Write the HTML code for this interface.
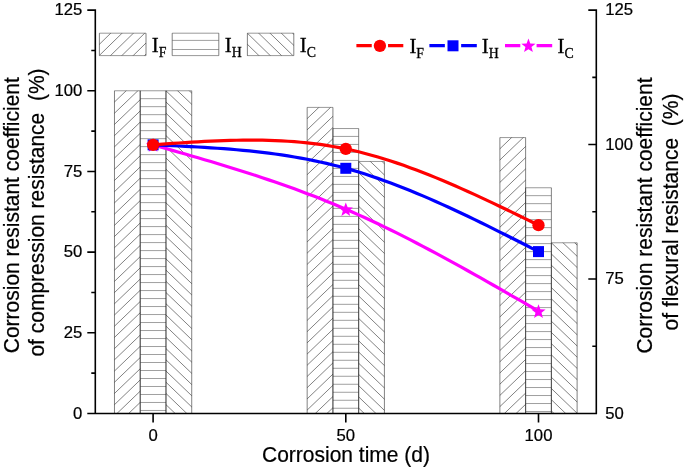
<!DOCTYPE html>
<html><head><meta charset="utf-8"><title>chart</title>
<style>html,body{margin:0;padding:0;background:#fff;}svg{display:block;will-change:transform;}</style></head>
<body><svg width="685" height="469" viewBox="0 0 685 469">
<rect width="685" height="469" fill="#fff"/>
<clipPath id="c0"><rect x="114.47" y="90.78" width="25.75" height="322.72"/></clipPath><g clip-path="url(#c0)" stroke="#1a1a1a" stroke-width="0.55" fill="none"><path d="M113.47 102.95L141.22 76.31M113.47 114.16L141.22 87.52M113.47 125.37L141.22 98.73M113.47 136.58L141.22 109.94M113.47 147.79L141.22 121.15M113.47 159.00L141.22 132.36M113.47 170.21L141.22 143.57M113.47 181.42L141.22 154.78M113.47 192.63L141.22 165.99M113.47 203.84L141.22 177.20M113.47 215.05L141.22 188.41M113.47 226.26L141.22 199.62M113.47 237.47L141.22 210.83M113.47 248.68L141.22 222.04M113.47 259.89L141.22 233.25M113.47 271.10L141.22 244.46M113.47 282.31L141.22 255.67M113.47 293.52L141.22 266.88M113.47 304.73L141.22 278.09M113.47 315.94L141.22 289.30M113.47 327.15L141.22 300.51M113.47 338.36L141.22 311.72M113.47 349.57L141.22 322.93M113.47 360.78L141.22 334.14M113.47 371.99L141.22 345.35M113.47 383.20L141.22 356.56M113.47 394.41L141.22 367.77M113.47 405.62L141.22 378.98M113.47 416.83L141.22 390.19M113.47 428.04L141.22 401.40"/></g><path d="M114.47 90.78V413.50M140.22 90.78V413.50" fill="none" stroke="#1a1a1a" stroke-width="0.55"/><path d="M114.47 90.78H140.22M114.47 413.50H140.22" fill="none" stroke="#1a1a1a" stroke-width="0.45"/>
<clipPath id="c1"><rect x="140.22" y="90.78" width="25.75" height="322.72"/></clipPath><g clip-path="url(#c1)" stroke="#1a1a1a" stroke-width="0.55" fill="none"><path d="M140.22 98.67H165.97M140.22 106.67H165.97M140.22 114.66H165.97M140.22 122.66H165.97M140.22 130.65H165.97M140.22 138.65H165.97M140.22 146.64H165.97M140.22 154.64H165.97M140.22 162.63H165.97M140.22 170.63H165.97M140.22 178.62H165.97M140.22 186.62H165.97M140.22 194.61H165.97M140.22 202.61H165.97M140.22 210.60H165.97M140.22 218.60H165.97M140.22 226.59H165.97M140.22 234.59H165.97M140.22 242.58H165.97M140.22 250.58H165.97M140.22 258.57H165.97M140.22 266.57H165.97M140.22 274.56H165.97M140.22 282.56H165.97M140.22 290.55H165.97M140.22 298.55H165.97M140.22 306.54H165.97M140.22 314.54H165.97M140.22 322.53H165.97M140.22 330.53H165.97M140.22 338.52H165.97M140.22 346.52H165.97M140.22 354.51H165.97M140.22 362.51H165.97M140.22 370.50H165.97M140.22 378.50H165.97M140.22 386.49H165.97M140.22 394.49H165.97M140.22 402.48H165.97M140.22 410.48H165.97" stroke-width="0.42"/></g><path d="M140.22 90.78V413.50M165.97 90.78V413.50" fill="none" stroke="#1a1a1a" stroke-width="0.55"/><path d="M140.22 90.78H165.97M140.22 413.50H165.97" fill="none" stroke="#1a1a1a" stroke-width="0.45"/>
<clipPath id="c2"><rect x="165.97" y="90.78" width="25.75" height="322.72"/></clipPath><g clip-path="url(#c2)" stroke="#1a1a1a" stroke-width="0.55" fill="none"><path d="M164.97 56.19L192.72 82.83M164.97 67.40L192.72 94.04M164.97 78.61L192.72 105.25M164.97 89.82L192.72 116.46M164.97 101.03L192.72 127.67M164.97 112.24L192.72 138.88M164.97 123.45L192.72 150.09M164.97 134.66L192.72 161.30M164.97 145.87L192.72 172.51M164.97 157.08L192.72 183.72M164.97 168.29L192.72 194.93M164.97 179.50L192.72 206.14M164.97 190.71L192.72 217.35M164.97 201.92L192.72 228.56M164.97 213.13L192.72 239.77M164.97 224.34L192.72 250.98M164.97 235.55L192.72 262.19M164.97 246.76L192.72 273.40M164.97 257.97L192.72 284.61M164.97 269.18L192.72 295.82M164.97 280.39L192.72 307.03M164.97 291.60L192.72 318.24M164.97 302.81L192.72 329.45M164.97 314.02L192.72 340.66M164.97 325.23L192.72 351.87M164.97 336.44L192.72 363.08M164.97 347.65L192.72 374.29M164.97 358.86L192.72 385.50M164.97 370.07L192.72 396.71M164.97 381.28L192.72 407.92M164.97 392.49L192.72 419.13M164.97 403.70L192.72 430.34"/></g><path d="M165.97 90.78V413.50M191.72 90.78V413.50" fill="none" stroke="#1a1a1a" stroke-width="0.55"/><path d="M165.97 90.78H191.72M165.97 413.50H191.72" fill="none" stroke="#1a1a1a" stroke-width="0.45"/>
<clipPath id="c3"><rect x="307.17" y="107.40" width="25.75" height="306.10"/></clipPath><g clip-path="url(#c3)" stroke="#1a1a1a" stroke-width="0.55" fill="none"><path d="M306.17 119.57L333.92 92.93M306.17 130.78L333.92 104.14M306.17 141.99L333.92 115.35M306.17 153.20L333.92 126.56M306.17 164.41L333.92 137.77M306.17 175.62L333.92 148.98M306.17 186.83L333.92 160.19M306.17 198.04L333.92 171.40M306.17 209.25L333.92 182.61M306.17 220.46L333.92 193.82M306.17 231.67L333.92 205.03M306.17 242.88L333.92 216.24M306.17 254.09L333.92 227.45M306.17 265.30L333.92 238.66M306.17 276.51L333.92 249.87M306.17 287.72L333.92 261.08M306.17 298.93L333.92 272.29M306.17 310.14L333.92 283.50M306.17 321.35L333.92 294.71M306.17 332.56L333.92 305.92M306.17 343.77L333.92 317.13M306.17 354.98L333.92 328.34M306.17 366.19L333.92 339.55M306.17 377.40L333.92 350.76M306.17 388.61L333.92 361.97M306.17 399.82L333.92 373.18M306.17 411.03L333.92 384.39M306.17 422.24L333.92 395.60M306.17 433.45L333.92 406.81"/></g><path d="M307.17 107.40V413.50M332.92 107.40V413.50" fill="none" stroke="#1a1a1a" stroke-width="0.55"/><path d="M307.17 107.40H332.92M307.17 413.50H332.92" fill="none" stroke="#1a1a1a" stroke-width="0.45"/>
<clipPath id="c4"><rect x="332.92" y="128.54" width="25.75" height="284.96"/></clipPath><g clip-path="url(#c4)" stroke="#1a1a1a" stroke-width="0.55" fill="none"><path d="M332.92 136.43H358.67M332.92 144.43H358.67M332.92 152.42H358.67M332.92 160.42H358.67M332.92 168.41H358.67M332.92 176.41H358.67M332.92 184.40H358.67M332.92 192.40H358.67M332.92 200.39H358.67M332.92 208.39H358.67M332.92 216.38H358.67M332.92 224.38H358.67M332.92 232.37H358.67M332.92 240.37H358.67M332.92 248.36H358.67M332.92 256.36H358.67M332.92 264.35H358.67M332.92 272.35H358.67M332.92 280.34H358.67M332.92 288.34H358.67M332.92 296.33H358.67M332.92 304.33H358.67M332.92 312.32H358.67M332.92 320.32H358.67M332.92 328.31H358.67M332.92 336.31H358.67M332.92 344.30H358.67M332.92 352.30H358.67M332.92 360.29H358.67M332.92 368.29H358.67M332.92 376.28H358.67M332.92 384.28H358.67M332.92 392.27H358.67M332.92 400.27H358.67M332.92 408.26H358.67" stroke-width="0.42"/></g><path d="M332.92 128.54V413.50M358.67 128.54V413.50" fill="none" stroke="#1a1a1a" stroke-width="0.55"/><path d="M332.92 128.54H358.67M332.92 413.50H358.67" fill="none" stroke="#1a1a1a" stroke-width="0.45"/>
<clipPath id="c5"><rect x="358.67" y="161.46" width="25.75" height="252.04"/></clipPath><g clip-path="url(#c5)" stroke="#1a1a1a" stroke-width="0.55" fill="none"><path d="M357.67 126.87L385.42 153.51M357.67 138.08L385.42 164.72M357.67 149.29L385.42 175.93M357.67 160.50L385.42 187.14M357.67 171.71L385.42 198.35M357.67 182.92L385.42 209.56M357.67 194.13L385.42 220.77M357.67 205.34L385.42 231.98M357.67 216.55L385.42 243.19M357.67 227.76L385.42 254.40M357.67 238.97L385.42 265.61M357.67 250.18L385.42 276.82M357.67 261.39L385.42 288.03M357.67 272.60L385.42 299.24M357.67 283.81L385.42 310.45M357.67 295.02L385.42 321.66M357.67 306.23L385.42 332.87M357.67 317.44L385.42 344.08M357.67 328.65L385.42 355.29M357.67 339.86L385.42 366.50M357.67 351.07L385.42 377.71M357.67 362.28L385.42 388.92M357.67 373.49L385.42 400.13M357.67 384.70L385.42 411.34M357.67 395.91L385.42 422.55M357.67 407.12L385.42 433.76"/></g><path d="M358.67 161.46V413.50M384.42 161.46V413.50" fill="none" stroke="#1a1a1a" stroke-width="0.55"/><path d="M358.67 161.46H384.42M358.67 413.50H384.42" fill="none" stroke="#1a1a1a" stroke-width="0.45"/>
<clipPath id="c6"><rect x="499.88" y="137.57" width="25.75" height="275.93"/></clipPath><g clip-path="url(#c6)" stroke="#1a1a1a" stroke-width="0.55" fill="none"><path d="M498.88 149.74L526.62 123.10M498.88 160.95L526.62 134.31M498.88 172.16L526.62 145.52M498.88 183.37L526.62 156.73M498.88 194.58L526.62 167.94M498.88 205.79L526.62 179.15M498.88 217.00L526.62 190.36M498.88 228.21L526.62 201.57M498.88 239.42L526.62 212.78M498.88 250.63L526.62 223.99M498.88 261.84L526.62 235.20M498.88 273.05L526.62 246.41M498.88 284.26L526.62 257.62M498.88 295.47L526.62 268.83M498.88 306.68L526.62 280.04M498.88 317.89L526.62 291.25M498.88 329.10L526.62 302.46M498.88 340.31L526.62 313.67M498.88 351.52L526.62 324.88M498.88 362.73L526.62 336.09M498.88 373.94L526.62 347.30M498.88 385.15L526.62 358.51M498.88 396.36L526.62 369.72M498.88 407.57L526.62 380.93M498.88 418.78L526.62 392.14M498.88 429.99L526.62 403.35"/></g><path d="M499.88 137.57V413.50M525.62 137.57V413.50" fill="none" stroke="#1a1a1a" stroke-width="0.55"/><path d="M499.88 137.57H525.62M499.88 413.50H525.62" fill="none" stroke="#1a1a1a" stroke-width="0.45"/>
<clipPath id="c7"><rect x="525.62" y="187.76" width="25.75" height="225.74"/></clipPath><g clip-path="url(#c7)" stroke="#1a1a1a" stroke-width="0.55" fill="none"><path d="M525.62 195.65H551.38M525.62 203.65H551.38M525.62 211.64H551.38M525.62 219.64H551.38M525.62 227.63H551.38M525.62 235.63H551.38M525.62 243.62H551.38M525.62 251.62H551.38M525.62 259.61H551.38M525.62 267.61H551.38M525.62 275.60H551.38M525.62 283.60H551.38M525.62 291.59H551.38M525.62 299.59H551.38M525.62 307.58H551.38M525.62 315.58H551.38M525.62 323.57H551.38M525.62 331.57H551.38M525.62 339.56H551.38M525.62 347.56H551.38M525.62 355.55H551.38M525.62 363.55H551.38M525.62 371.54H551.38M525.62 379.54H551.38M525.62 387.53H551.38M525.62 395.53H551.38M525.62 403.52H551.38M525.62 411.52H551.38" stroke-width="0.42"/></g><path d="M525.62 187.76V413.50M551.38 187.76V413.50" fill="none" stroke="#1a1a1a" stroke-width="0.55"/><path d="M525.62 187.76H551.38M525.62 413.50H551.38" fill="none" stroke="#1a1a1a" stroke-width="0.45"/>
<clipPath id="c8"><rect x="551.38" y="242.78" width="25.75" height="170.72"/></clipPath><g clip-path="url(#c8)" stroke="#1a1a1a" stroke-width="0.55" fill="none"><path d="M550.38 208.19L578.12 234.83M550.38 219.40L578.12 246.04M550.38 230.61L578.12 257.25M550.38 241.82L578.12 268.46M550.38 253.03L578.12 279.67M550.38 264.24L578.12 290.88M550.38 275.45L578.12 302.09M550.38 286.66L578.12 313.30M550.38 297.87L578.12 324.51M550.38 309.08L578.12 335.72M550.38 320.29L578.12 346.93M550.38 331.50L578.12 358.14M550.38 342.71L578.12 369.35M550.38 353.92L578.12 380.56M550.38 365.13L578.12 391.77M550.38 376.34L578.12 402.98M550.38 387.55L578.12 414.19M550.38 398.76L578.12 425.40M550.38 409.97L578.12 436.61"/></g><path d="M551.38 242.78V413.50M577.12 242.78V413.50" fill="none" stroke="#1a1a1a" stroke-width="0.55"/><path d="M551.38 242.78H577.12M551.38 413.50H577.12" fill="none" stroke="#1a1a1a" stroke-width="0.45"/>
<clipPath id="c9"><rect x="99.40" y="33.20" width="46.60" height="22.40"/></clipPath><g clip-path="url(#c9)" stroke="#1a1a1a" stroke-width="0.55" fill="none"><path d="M98.40 45.28L147.00 -2.35M98.40 56.38L147.00 8.75M98.40 67.48L147.00 19.85M98.40 78.58L147.00 30.95M98.40 89.68L147.00 42.05M98.40 100.78L147.00 53.15"/></g><path d="M99.40 33.20V55.60M146.00 33.20V55.60" fill="none" stroke="#1a1a1a" stroke-width="0.55"/><path d="M99.40 33.20H146.00M99.40 55.60H146.00" fill="none" stroke="#1a1a1a" stroke-width="0.45"/>
<clipPath id="c10"><rect x="172.20" y="33.20" width="46.60" height="22.40"/></clipPath><g clip-path="url(#c10)" stroke="#1a1a1a" stroke-width="0.55" fill="none"><path d="M172.20 40.40H218.80M172.20 49.50H218.80" stroke-width="0.42"/></g><path d="M172.20 33.20V55.60M218.80 33.20V55.60" fill="none" stroke="#1a1a1a" stroke-width="0.55"/><path d="M172.20 33.20H218.80M172.20 55.60H218.80" fill="none" stroke="#1a1a1a" stroke-width="0.45"/>
<clipPath id="c11"><rect x="247.40" y="33.20" width="46.40" height="22.40"/></clipPath><g clip-path="url(#c11)" stroke="#1a1a1a" stroke-width="0.55" fill="none"><path d="M246.40 -23.28L294.80 24.15M246.40 -12.18L294.80 35.25M246.40 -1.08L294.80 46.35M246.40 10.02L294.80 57.45M246.40 21.12L294.80 68.55M246.40 32.22L294.80 79.65M246.40 43.32L294.80 90.75M246.40 54.42L294.80 101.85"/></g><path d="M247.40 33.20V55.60M293.80 33.20V55.60" fill="none" stroke="#1a1a1a" stroke-width="0.55"/><path d="M247.40 33.20H293.80M247.40 55.60H293.80" fill="none" stroke="#1a1a1a" stroke-width="0.45"/>
<path d="M153.10 144.85L159.52 146.68L165.95 148.52L172.37 150.36L178.79 152.20L185.22 154.05L191.64 155.92L198.06 157.79L204.49 159.68L210.91 161.59L217.33 163.52L223.76 165.47L230.18 167.44L236.60 169.43L243.03 171.45L249.45 173.50L255.87 175.59L262.30 177.70L268.72 179.86L275.14 182.04L281.57 184.27L287.99 186.54L294.41 188.86L300.84 191.22L307.26 193.63L313.68 196.08L320.11 198.60L326.53 201.16L332.95 203.78L339.38 206.46L345.80 209.20L352.22 212.00L358.65 214.86L365.07 217.78L371.49 220.76L377.92 223.79L384.34 226.88L390.76 230.01L397.19 233.19L403.61 236.42L410.03 239.69L416.46 243.00L422.88 246.36L429.30 249.75L435.73 253.17L442.15 256.63L448.57 260.12L455.00 263.64L461.42 267.19L467.84 270.76L474.27 274.35L480.69 277.97L487.11 281.60L493.54 285.25L499.96 288.92L506.38 292.60L512.81 296.28L519.23 299.98L525.65 303.68L532.08 307.39L538.50 311.10" fill="none" stroke="#ff00ff" stroke-width="3.20" stroke-linejoin="round"/>
<polygon points="153.10,138.07 154.95,143.02 160.23,143.25 156.10,146.54 157.51,151.63 153.10,148.72 148.69,151.63 150.10,146.54 145.97,143.25 151.25,143.02" fill="#ff00ff"/>
<polygon points="345.80,202.42 347.65,207.37 352.93,207.60 348.80,210.89 350.21,215.98 345.80,213.07 341.39,215.98 342.80,210.89 338.67,207.60 343.95,207.37" fill="#ff00ff"/>
<polygon points="538.50,304.32 540.35,309.27 545.63,309.50 541.50,312.79 542.91,317.88 538.50,314.97 534.09,317.88 535.50,312.79 531.37,309.50 536.65,309.27" fill="#ff00ff"/>
<path d="M153.10 144.85L159.52 145.13L165.95 145.42L172.37 145.71L178.79 146.02L185.22 146.33L191.64 146.67L198.06 147.02L204.49 147.40L210.91 147.80L217.33 148.23L223.76 148.70L230.18 149.20L236.60 149.75L243.03 150.33L249.45 150.96L255.87 151.65L262.30 152.38L268.72 153.17L275.14 154.03L281.57 154.94L287.99 155.92L294.41 156.97L300.84 158.10L307.26 159.30L313.68 160.58L320.11 161.95L326.53 163.40L332.95 164.94L339.38 166.57L345.80 168.30L352.22 170.13L358.65 172.05L365.07 174.07L371.49 176.18L377.92 178.37L384.34 180.65L390.76 183.01L397.19 185.44L403.61 187.95L410.03 190.53L416.46 193.17L422.88 195.87L429.30 198.64L435.73 201.46L442.15 204.34L448.57 207.26L455.00 210.24L461.42 213.25L467.84 216.31L474.27 219.40L480.69 222.53L487.11 225.68L493.54 228.86L499.96 232.07L506.38 235.29L512.81 238.53L519.23 241.79L525.65 245.05L532.08 248.33L538.50 251.60" fill="none" stroke="#0000ff" stroke-width="3.20" stroke-linejoin="round"/>
<rect x="147.60" y="139.35" width="11" height="11" fill="#0000ff"/>
<rect x="340.30" y="162.80" width="11" height="11" fill="#0000ff"/>
<rect x="533.00" y="246.10" width="11" height="11" fill="#0000ff"/>
<path d="M153.10 144.85L159.52 144.38L165.95 143.92L172.37 143.47L178.79 143.02L185.22 142.60L191.64 142.19L198.06 141.81L204.49 141.46L210.91 141.13L217.33 140.85L223.76 140.60L230.18 140.40L236.60 140.25L243.03 140.15L249.45 140.10L255.87 140.12L262.30 140.20L268.72 140.34L275.14 140.56L281.57 140.86L287.99 141.24L294.41 141.70L300.84 142.25L307.26 142.89L313.68 143.63L320.11 144.46L326.53 145.41L332.95 146.46L339.38 147.62L345.80 148.90L352.22 150.30L358.65 151.81L365.07 153.44L371.49 155.18L377.92 157.02L384.34 158.96L390.76 160.99L397.19 163.12L403.61 165.34L410.03 167.64L416.46 170.03L422.88 172.48L429.30 175.01L435.73 177.61L442.15 180.28L448.57 183.00L455.00 185.78L461.42 188.61L467.84 191.49L474.27 194.41L480.69 197.38L487.11 200.38L493.54 203.41L499.96 206.47L506.38 209.56L512.81 212.66L519.23 215.78L525.65 218.91L532.08 222.06L538.50 225.20" fill="none" stroke="#ff0000" stroke-width="3.20" stroke-linejoin="round"/>
<circle cx="153.10" cy="144.85" r="6.15" fill="#ff0000"/>
<circle cx="345.80" cy="148.90" r="6.15" fill="#ff0000"/>
<circle cx="538.50" cy="225.20" r="6.15" fill="#ff0000"/>
<path d="M356.40 45.7H371.75M388.05 45.7H403.30" stroke="#ff0000" stroke-width="3.20" fill="none"/>
<circle cx="379.90" cy="45.80" r="6.15" fill="#ff0000"/>
<path d="M429.40 45.7H444.85M461.15 45.7H476.80" stroke="#0000ff" stroke-width="3.20" fill="none"/>
<rect x="447.50" y="40.30" width="11" height="11" fill="#0000ff"/>
<path d="M505.00 45.7H520.30M536.60 45.7H552.20" stroke="#ff00ff" stroke-width="3.20" fill="none"/>
<polygon points="528.45,38.52 530.30,43.47 535.58,43.70 531.45,46.99 532.86,52.08 528.45,49.17 524.04,52.08 525.45,46.99 521.32,43.70 526.60,43.47" fill="#ff00ff"/>
<path d="M95.30 9.30V414.30M596.30 9.30V414.30M87.30 413.50H597.10M87.30 413.50H95.30M87.30 332.82H95.30M87.30 252.14H95.30M87.30 171.46H95.30M87.30 90.78H95.30M87.30 10.10H95.30M91.30 373.16H95.30M91.30 292.48H95.30M91.30 211.80H95.30M91.30 131.12H95.30M91.30 50.44H95.30M588.30 413.50H596.30M588.30 279.03H596.30M588.30 144.57H596.30M588.30 10.10H596.30M592.30 346.27H596.30M592.30 211.80H596.30M592.30 77.33H596.30M153.10 413.50V422.50M345.80 413.50V422.50M538.50 413.50V422.50" stroke="#000" stroke-width="1.60" fill="none"/>
<text x="82.3" y="418.58" font-family="Liberation Sans, sans-serif" stroke="#000" stroke-width="0.22" font-size="16.7" text-anchor="end">0</text>
<text x="82.3" y="337.90" font-family="Liberation Sans, sans-serif" stroke="#000" stroke-width="0.22" font-size="16.7" text-anchor="end">25</text>
<text x="82.3" y="257.22" font-family="Liberation Sans, sans-serif" stroke="#000" stroke-width="0.22" font-size="16.7" text-anchor="end">50</text>
<text x="82.3" y="176.54" font-family="Liberation Sans, sans-serif" stroke="#000" stroke-width="0.22" font-size="16.7" text-anchor="end">75</text>
<text x="82.3" y="95.86" font-family="Liberation Sans, sans-serif" stroke="#000" stroke-width="0.22" font-size="16.7" text-anchor="end">100</text>
<text x="82.3" y="15.18" font-family="Liberation Sans, sans-serif" stroke="#000" stroke-width="0.22" font-size="16.7" text-anchor="end">125</text>
<text x="605.2" y="418.58" font-family="Liberation Sans, sans-serif" stroke="#000" stroke-width="0.22" font-size="16.7">50</text>
<text x="605.2" y="284.11" font-family="Liberation Sans, sans-serif" stroke="#000" stroke-width="0.22" font-size="16.7">75</text>
<text x="605.2" y="149.65" font-family="Liberation Sans, sans-serif" stroke="#000" stroke-width="0.22" font-size="16.7">100</text>
<text x="605.2" y="15.18" font-family="Liberation Sans, sans-serif" stroke="#000" stroke-width="0.22" font-size="16.7">125</text>
<text x="153.10" y="441" font-family="Liberation Sans, sans-serif" stroke="#000" stroke-width="0.22" font-size="16.7" text-anchor="middle">0</text>
<text x="345.80" y="441" font-family="Liberation Sans, sans-serif" stroke="#000" stroke-width="0.22" font-size="16.7" text-anchor="middle">50</text>
<text x="538.50" y="441" font-family="Liberation Sans, sans-serif" stroke="#000" stroke-width="0.22" font-size="16.7" text-anchor="middle">100</text>
<text transform="translate(346.0 461.7) scale(1 1.05)" font-family="Liberation Sans, sans-serif" stroke="#000" stroke-width="0.22" font-size="21.0" text-anchor="middle">Corrosion time (d)</text>
<text transform="translate(18.70 215.20) rotate(-90) scale(1 1.08)" font-family="Liberation Sans, sans-serif" stroke="#000" stroke-width="0.22" font-size="21.0" text-anchor="middle" xml:space="preserve">Corrosion resistant coefficient</text>
<text transform="translate(44.30 212.50) rotate(-90) scale(1 1.08)" font-family="Liberation Sans, sans-serif" stroke="#000" stroke-width="0.22" font-size="21.0" text-anchor="middle" xml:space="preserve">of compression resistance  (%)</text>
<text transform="translate(651.90 215.50) rotate(-90) scale(1 1.08)" font-family="Liberation Sans, sans-serif" stroke="#000" stroke-width="0.22" font-size="21.0" text-anchor="middle" xml:space="preserve">Corrosion resistant coefficient</text>
<text transform="translate(677.80 212.00) rotate(-90) scale(1 1.08)" font-family="Liberation Sans, sans-serif" stroke="#000" stroke-width="0.22" font-size="21.0" text-anchor="middle" xml:space="preserve">of flexural resistance  (%)</text>
<text x="151.80" y="51.90" font-family="Liberation Serif, serif" font-size="20.8" stroke="#000" stroke-width="0.3">I<tspan dy="5.1" font-size="13.8">F</tspan></text>
<text x="224.70" y="51.90" font-family="Liberation Serif, serif" font-size="20.8" stroke="#000" stroke-width="0.3">I<tspan dy="5.1" font-size="13.8">H</tspan></text>
<text x="299.80" y="51.90" font-family="Liberation Serif, serif" font-size="20.8" stroke="#000" stroke-width="0.3">I<tspan dy="5.1" font-size="13.8">C</tspan></text>
<text x="409.40" y="53.00" font-family="Liberation Serif, serif" font-size="20.8" stroke="#000" stroke-width="0.3">I<tspan dy="5.1" font-size="13.8">F</tspan></text>
<text x="481.80" y="53.00" font-family="Liberation Serif, serif" font-size="20.8" stroke="#000" stroke-width="0.3">I<tspan dy="5.1" font-size="13.8">H</tspan></text>
<text x="557.60" y="53.00" font-family="Liberation Serif, serif" font-size="20.8" stroke="#000" stroke-width="0.3">I<tspan dy="5.1" font-size="13.8">C</tspan></text>
</svg></body></html>
